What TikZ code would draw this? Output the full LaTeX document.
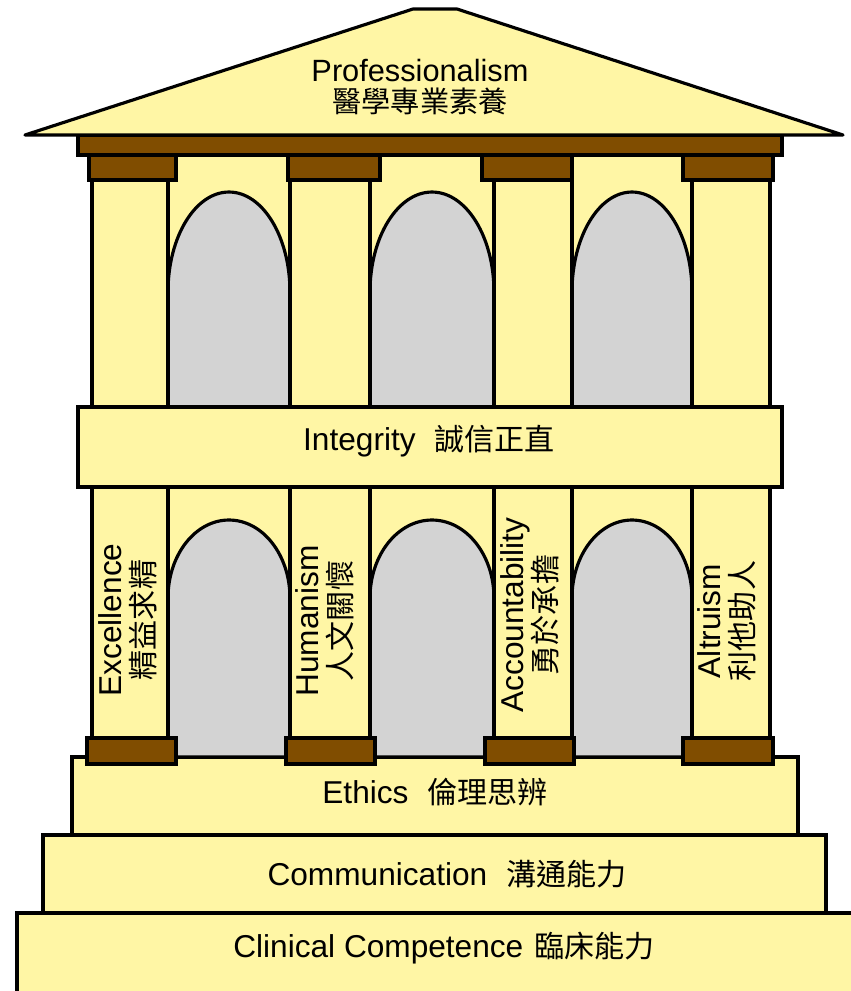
\documentclass[tikz,border=0pt]{standalone}
\usepackage{fontspec}
\setmainfont{Liberation Sans}
\newfontfamily\cjk[Scale=0.95]{Noto Sans CJK TC}
\usetikzlibrary{positioning}

\definecolor{stone}{RGB}{255,246,165}
\definecolor{wood}{RGB}{128,77,0}
\definecolor{shade}{RGB}{211,211,211}
\lineskiplimit=-100pt

\begin{document}
\begin{tikzpicture}[
    x=0.02cm, y=-0.02cm, line width=1.8pt,
    stonebox/.style={draw=black, fill=stone},
    woodbox/.style={draw=black, fill=wood},
    archway/.style={draw=black, fill=shade},
    title/.style={font=\fontsize{17.5}{17.5}\selectfont, align=center, inner sep=0pt},
    steptext/.style={font=\fontsize{18}{20}\selectfont, anchor=base, inner sep=0pt},
    pillartext/.style={font=\fontsize{18}{18.7}\selectfont, align=center, rotate=90, inner sep=0pt}
]
\useasboundingbox (0,0) rectangle (851,991);

% steps at the bottom
\draw[stonebox] (17,913) rectangle (856,996);
\draw[stonebox] (43,835) rectangle (826,913);
\draw[stonebox] (72,757) rectangle (798,835);

% lower storey
\fill[stone] (92,487) rectangle (770,757);
\draw[archway] (168,757) -- (168,598) arc[start angle=180, end angle=0, x radius=1.22cm, y radius=1.56cm] -- (290,757) -- cycle;
\draw[archway] (370,757) -- (370,598) arc[start angle=180, end angle=0, x radius=1.24cm, y radius=1.56cm] -- (494,757) -- cycle;
\draw[archway] (572,757) -- (572,598) arc[start angle=180, end angle=0, x radius=1.20cm, y radius=1.56cm] -- (692,757) -- cycle;
\foreach \l/\r in {92/168, 290/370, 494/572, 692/770}
    \draw[stonebox] (\l,487) rectangle (\r,738);
\foreach \l/\r in {87/176, 286/375, 485/574, 683/773}
    \draw[woodbox] (\l,738) rectangle (\r,764);

% upper storey
\fill[stone] (92,155) rectangle (770,407);
\draw[archway] (168,407) -- (168,292) arc[start angle=180, end angle=0, x radius=1.22cm, y radius=2cm] -- (290,407) -- cycle;
\draw[archway] (370,407) -- (370,292) arc[start angle=180, end angle=0, x radius=1.24cm, y radius=2cm] -- (494,407) -- cycle;
\draw[archway] (572,407) -- (572,292) arc[start angle=180, end angle=0, x radius=1.20cm, y radius=2cm] -- (692,407) -- cycle;
\foreach \l/\r in {92/168, 290/370, 494/572, 692/770}
    \draw[stonebox] (\l,180) rectangle (\r,407);
\foreach \l/\r in {89/176, 288/380, 482/572, 683/773}
    \draw[woodbox] (\l,155) rectangle (\r,180);

% middle band, beam and roof
\draw[stonebox] (78,407) rectangle (782,487);
\draw[woodbox] (78,135) rectangle (782,155);
\draw[stonebox, line join=round] (25,135) -- (413,9) -- (457,9) -- (843,135) -- cycle;

% labels
\node[title] (prof) at (420,87) {Professionalism\\{\cjk 醫學專業素養}};
\node[steptext] (integ) at (429,450) {Integrity\hspace{0.6em}{\cjk 誠信正直}};
\node[steptext] (ethics) at (435,803) {Ethics\hspace{0.6em}{\cjk 倫理思辨}};
\node[steptext] (comm) at (447,885) {Communication\hspace{0.6em}{\cjk 溝通能力}};
\node[steptext] (clin) at (444,957) {Clinical Competence\hspace{0.35em}{\cjk 臨床能力}};

\node[pillartext] (excel) at (128,620) {Excellence\\{\cjk 精益求精}};
\node[pillartext] (human) at (325,621) {Humanism\\{\cjk 人文關懷}};
\node[pillartext] (account) at (530,615) {Accountability\\{\cjk 勇於承擔}};
\node[pillartext] (altru) at (727,621) {Altruism\\{\cjk 利他助人}};

\end{tikzpicture}
\end{document}
